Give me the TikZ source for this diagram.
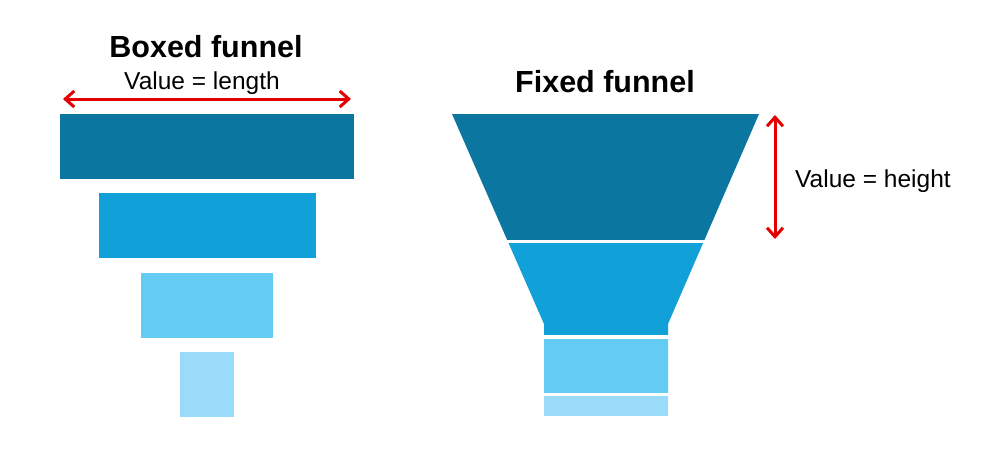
\documentclass[tikz,border=0pt]{standalone}
\usepackage{fontspec}
\setmainfont{Liberation Sans}
\usepackage{tikz}
\usetikzlibrary{positioning, arrows.meta}
\definecolor{funneldark}{RGB}{11,119,160}
\definecolor{funnelmid}{RGB}{18,160,216}
\definecolor{funnellight}{RGB}{100,204,242}
\definecolor{funnelpale}{RGB}{153,219,248}
\definecolor{arrowred}{RGB}{228,0,0}

\begin{document}
\begin{tikzpicture}[
    x=1pt,
    y=-1pt,
    titlelabel/.style={font=\fontsize{30.5}{34}\selectfont\bfseries, anchor=base, inner sep=0pt},
    valuelabel/.style={font=\fontsize{24.5}{28}\selectfont, inner sep=0pt},
    arrow/.style={{Straight Barb[length=9pt, width=16pt]}-{Straight Barb[length=9pt, width=16pt]}, line width=3pt, color=arrowred},
    barbox/.style={
        rectangle,
        minimum height=65pt,
        inner sep=0pt,
        draw=none
    }
]

\useasboundingbox (0,0) rectangle (1000,464);

%% LEFT SIDE - boxed funnel %%
\node (boxed_title) [titlelabel] at (206,57) {Boxed funnel};
\node (length_label) [valuelabel, anchor=base] at (202,89) {Value = length};

\node (bar1) [barbox, fill=funneldark, minimum width=294pt] at (207,146.5) {};
\node (bar2) [barbox, fill=funnelmid, minimum width=217pt, below=14pt of bar1] {};
\node (bar3) [barbox, fill=funnellight, minimum width=132pt, below=14pt of bar2] {};
\node (bar4) [barbox, fill=funnelpale, minimum width=54pt, below=14pt of bar3] {};

\coordinate (length_left) at (63,99);
\coordinate (length_right) at (351,99);
\draw [arrow] (length_left) -- (length_right);

%% RIGHT SIDE - fixed funnel %%
\node (fixed_title) [titlelabel] at (605,92) {Fixed funnel};

\begin{scope}
    \clip (452,114) -- (759,114) -- (668,324) -- (668,416) -- (544,416) -- (544,324) -- cycle;
    \fill [funneldark] (440,114) rectangle (770,240);
    \fill [funnelmid] (440,243) rectangle (770,335);
    \fill [funnellight] (440,339) rectangle (770,393);
    \fill [funnelpale] (440,396) rectangle (770,416);
\end{scope}

\coordinate (height_top) at (775,115);
\coordinate (height_bottom) at (775,239);
\draw [arrow] (height_top) -- (height_bottom);

\node (height_label) [valuelabel, anchor=base west] at (795,187) {Value = height};

\end{tikzpicture}
\end{document}
